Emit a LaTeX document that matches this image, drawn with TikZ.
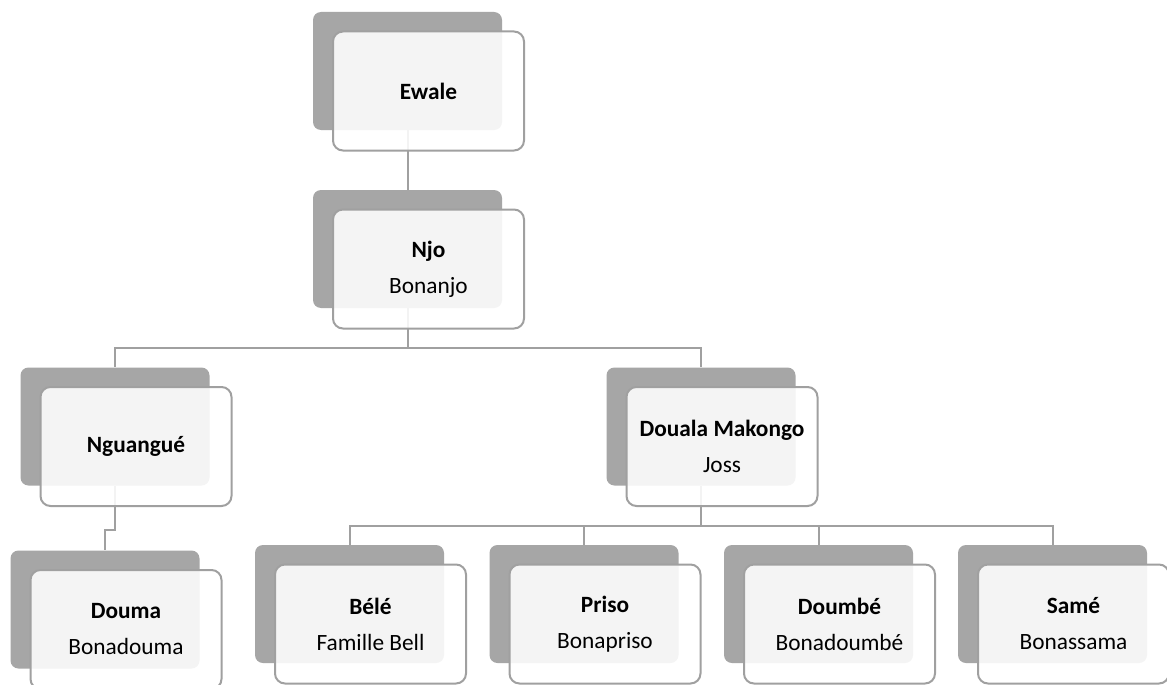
\documentclass[tikz,border=0pt]{standalone}
\usepackage{fontspec}
\setmainfont{Carlito}
\usetikzlibrary{backgrounds}
\definecolor{backgray}{RGB}{166,166,166}
\definecolor{linkgray}{RGB}{160,160,160}
\tikzset{
  backbox/.style={fill=backgray, rounded corners=6pt, inner sep=0pt,
    minimum width=141.75pt, minimum height=88.5pt},
  frontbox/.style={draw=linkgray, line width=1.5pt, fill=white, fill opacity=0.88,
    text opacity=1, rounded corners=7.5pt, inner sep=0pt, align=center,
    minimum width=143.25pt, minimum height=89.25pt, shift={(21,20)},
    font=\fontsize{17.5}{27}\selectfont},
  link/.style={draw=linkgray, line width=1.5pt}
}
\begin{document}
\begin{tikzpicture}[x=0.75pt, y=-0.75pt]
        \useasboundingbox (0,0) rectangle (1167,685);
        \node[backbox]  (ewaleback)  at (407.5,71)    {};                          %
        \node[frontbox] (ewale)      at (ewaleback)   {\textbf{Ewale}};            %Ewale
        \node[backbox]  (njoback)    at (407.5,249)   {};                          %
        \node[frontbox] (njo)        at (njoback)     {\textbf{Njo}\\Bonanjo};     %Njo
        \node[backbox]  (nguaback)   at (115,426.5)   {};                          %
        \node[frontbox] (ngua)       at (nguaback)    {\textbf{Nguangué}};         %Nguangue
        \node[backbox]  (doualaback) at (701,426.5)   {};                          %
        \node[frontbox] (douala)     at (doualaback)  {\textbf{Douala Makongo}\\Joss};
        \node[backbox]  (doumaback)  at (105,609.5)   {};                          %
        \node[frontbox] (douma)      at (doumaback)   {\textbf{Douma}\\Bonadouma}; %Douma
        \node[backbox]  (beleback)   at (349.5,604)   {};                          %
        \node[frontbox] (bele)       at (beleback)    {\textbf{Bélé}\\Famille Bell};
        \node[backbox]  (prisoback)  at (584,604)     {};                          %
        \node[frontbox] (priso)      at (prisoback)   {\textbf{Priso}\\Bonapriso}; %Priso
        \node[backbox]  (doumbeback) at (818.5,604)   {};                          %
        \node[frontbox] (doumbe)     at (doumbeback)  {\textbf{Doumbé}\\Bonadoumbé};
        \node[backbox]  (sameback)   at (1052.5,604)  {};                          %
        \node[frontbox] (same)       at (sameback)    {\textbf{Samé}\\Bonassama};  %Same
        \begin{scope}[on background layer]
        \fill[white] (0,0) rectangle (1167,685);                                   %page
        \draw[link] (ewaleback.south) -- (njoback.north);                          %
        \draw[link] (njoback.south) -- ++(0,40) -| (nguaback.north);               %
        \draw[link] (njoback.south) -- ++(0,40) -| (doualaback.north);             %
        \draw[link] (nguaback.south) -- ++(0,44) -| (doumaback.north);             %
        \foreach \kid in {beleback,prisoback,doumbeback,sameback}
          \draw[link] (doualaback.south) -- ++(0,40) -| (\kid.north);              %
        \end{scope}
       \end{tikzpicture}
\end{document}
